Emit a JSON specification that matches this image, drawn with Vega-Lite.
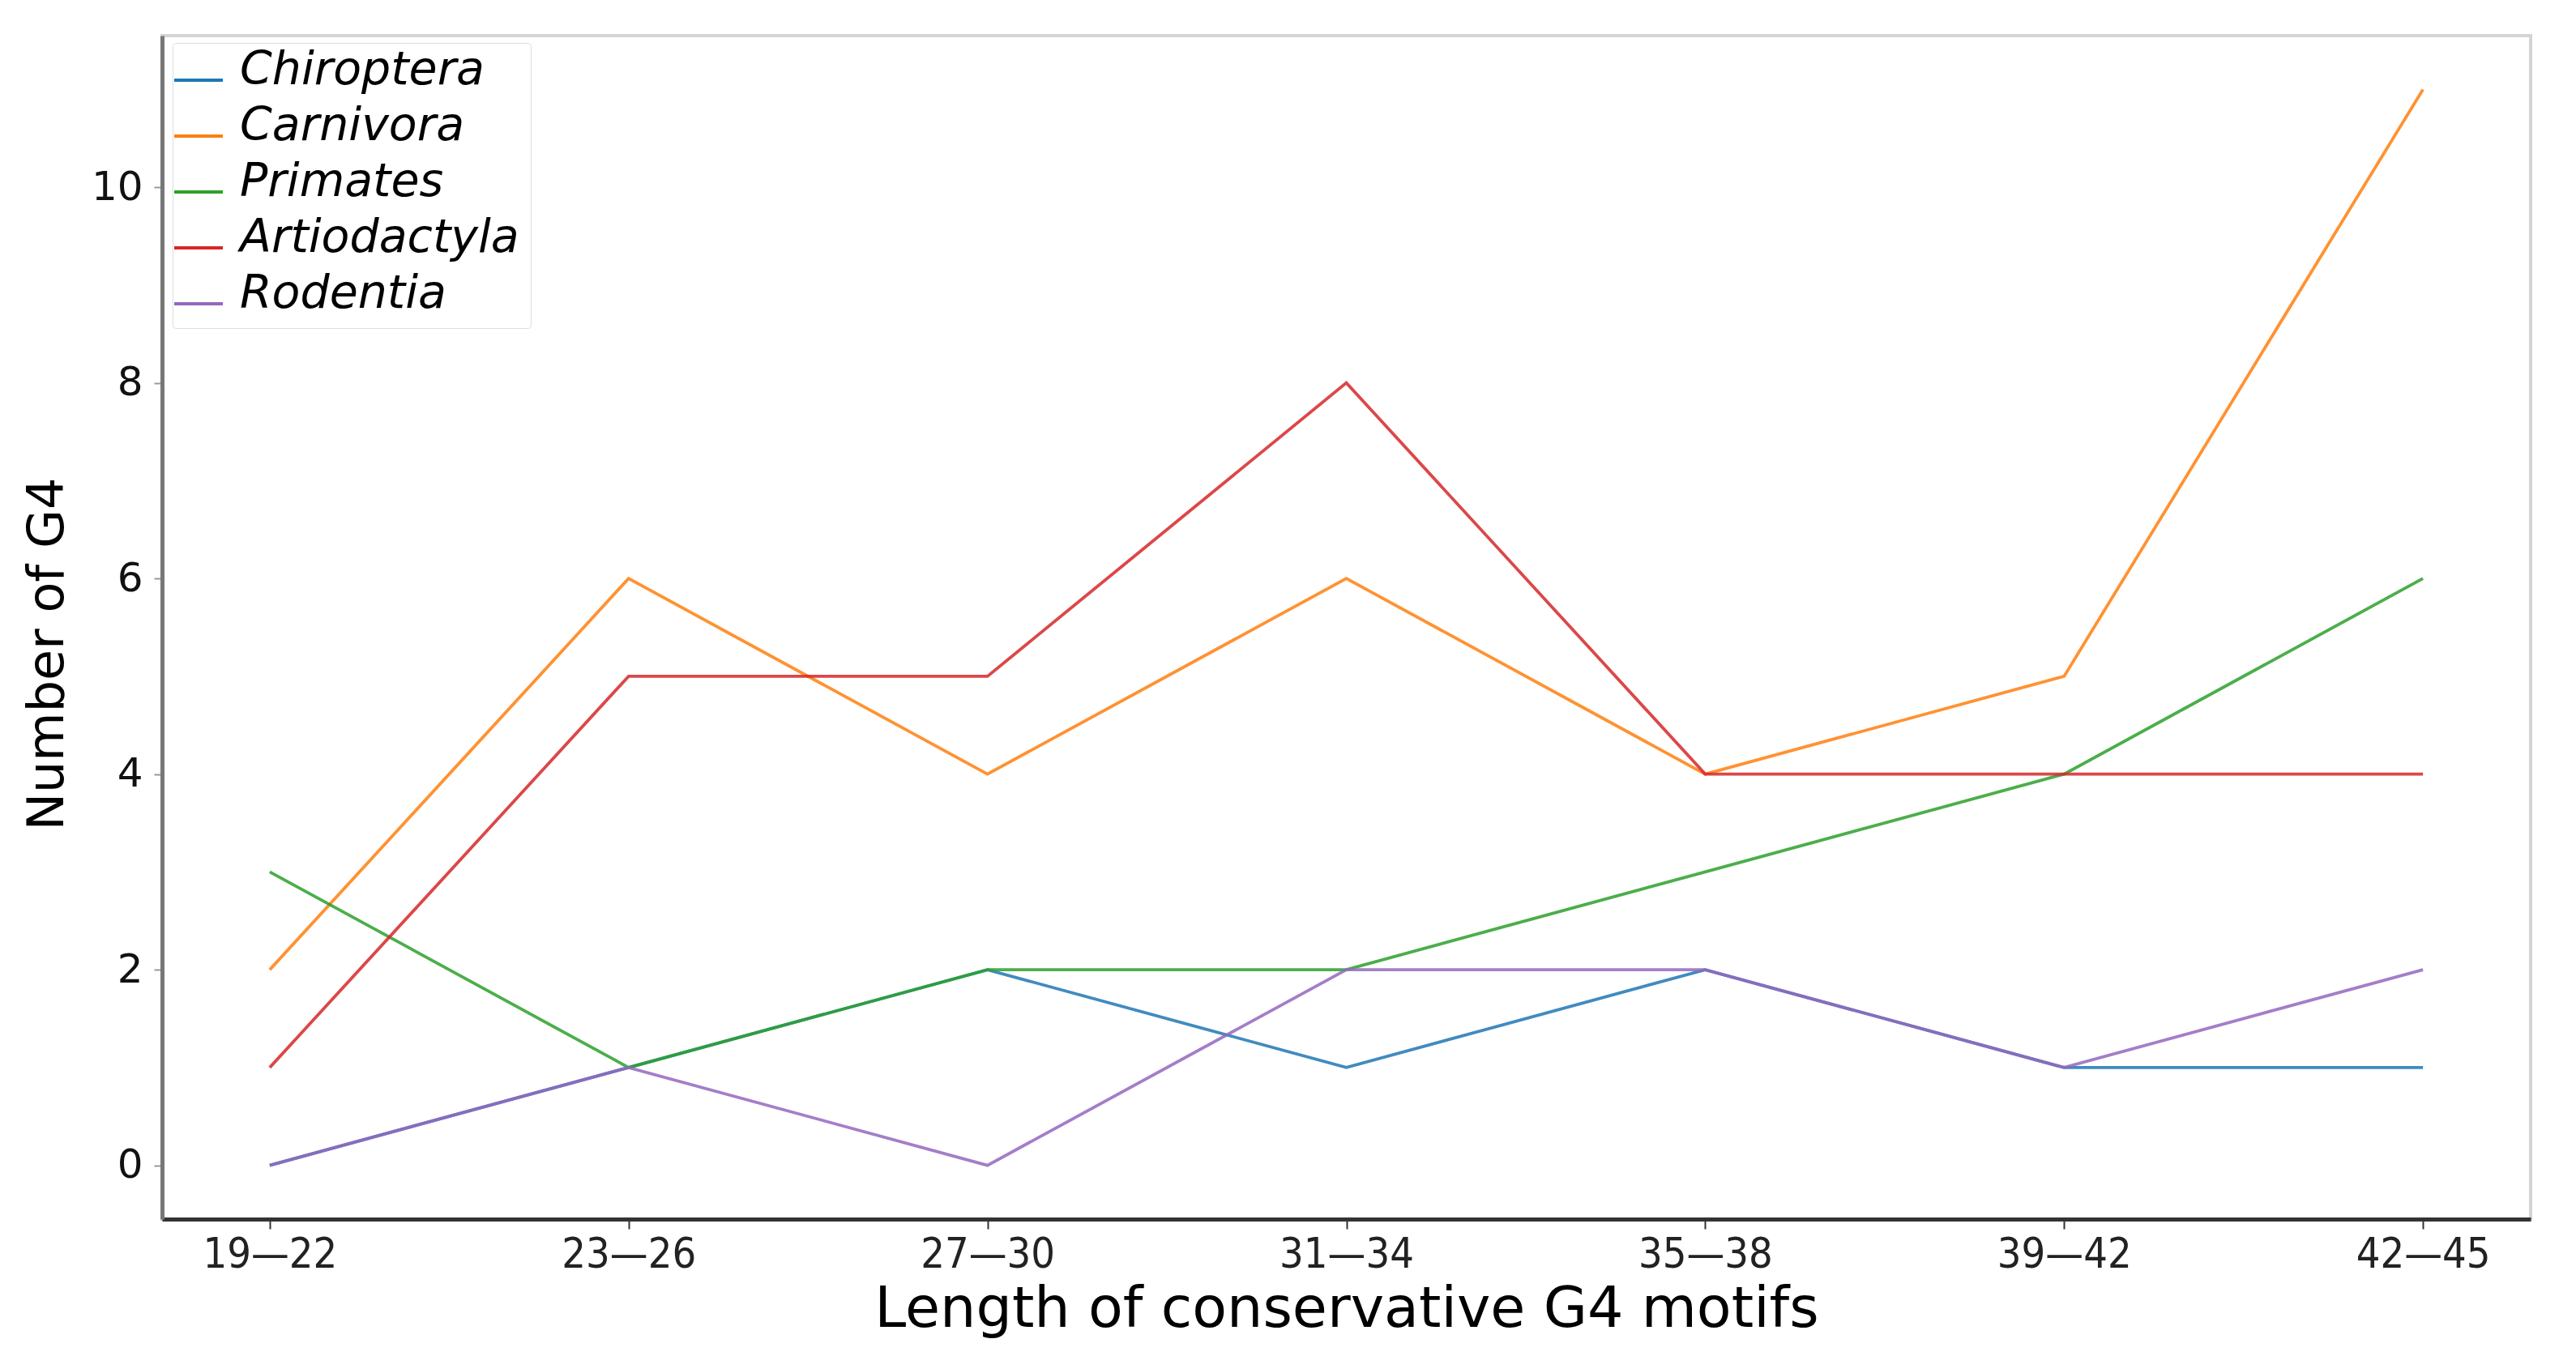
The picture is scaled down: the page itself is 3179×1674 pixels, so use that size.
{
  "$schema": "https://vega.github.io/schema/vega-lite/v6.json",
  "width": 2923,
  "height": 1461,
  "autosize": {"type": "none"},
  "padding": {"left": 200, "top": 44, "right": 56, "bottom": 169},
  "background": "white",
  "config": {
    "view": {"stroke": "#d4d4d4", "strokeWidth": 4},
    "font": "DejaVu Sans"
  },
  "data": {
    "values": [
      {"len": "19—22", "species": "Chiroptera", "n": 0},
      {"len": "23—26", "species": "Chiroptera", "n": 1},
      {"len": "27—30", "species": "Chiroptera", "n": 2},
      {"len": "31—34", "species": "Chiroptera", "n": 1},
      {"len": "35—38", "species": "Chiroptera", "n": 2},
      {"len": "39—42", "species": "Chiroptera", "n": 1},
      {"len": "42—45", "species": "Chiroptera", "n": 1},
      {"len": "19—22", "species": "Carnivora", "n": 2},
      {"len": "23—26", "species": "Carnivora", "n": 6},
      {"len": "27—30", "species": "Carnivora", "n": 4},
      {"len": "31—34", "species": "Carnivora", "n": 6},
      {"len": "35—38", "species": "Carnivora", "n": 4},
      {"len": "39—42", "species": "Carnivora", "n": 5},
      {"len": "42—45", "species": "Carnivora", "n": 11},
      {"len": "19—22", "species": "Primates", "n": 3},
      {"len": "23—26", "species": "Primates", "n": 1},
      {"len": "27—30", "species": "Primates", "n": 2},
      {"len": "31—34", "species": "Primates", "n": 2},
      {"len": "35—38", "species": "Primates", "n": 3},
      {"len": "39—42", "species": "Primates", "n": 4},
      {"len": "42—45", "species": "Primates", "n": 6},
      {"len": "19—22", "species": "Artiodactyla", "n": 1},
      {"len": "23—26", "species": "Artiodactyla", "n": 5},
      {"len": "27—30", "species": "Artiodactyla", "n": 5},
      {"len": "31—34", "species": "Artiodactyla", "n": 8},
      {"len": "35—38", "species": "Artiodactyla", "n": 4},
      {"len": "39—42", "species": "Artiodactyla", "n": 4},
      {"len": "42—45", "species": "Artiodactyla", "n": 4},
      {"len": "19—22", "species": "Rodentia", "n": 0},
      {"len": "23—26", "species": "Rodentia", "n": 1},
      {"len": "27—30", "species": "Rodentia", "n": 0},
      {"len": "31—34", "species": "Rodentia", "n": 2},
      {"len": "35—38", "species": "Rodentia", "n": 2},
      {"len": "39—42", "species": "Rodentia", "n": 1},
      {"len": "42—45", "species": "Rodentia", "n": 2}
    ]
  },
  "mark": {"type": "line", "strokeWidth": 3.8, "strokeOpacity": 0.85},
  "encoding": {
    "x": {
      "field": "len",
      "type": "ordinal",
      "sort": null,
      "scale": {"type": "point", "padding": 0.3},
      "axis": {
        "title": "Length of conservative G4 motifs",
        "titleFont": "DejaVu Sans",
        "titleFontSize": 70,
        "titleFontWeight": "normal",
        "titleColor": "#000000",
        "titlePadding": 8,
        "labelFont": "DejaVu Sans Condensed, DejaVu Sans",
        "labelFontSize": 52,
        "labelColor": "#222222",
        "labelAngle": 0,
        "labelPadding": 6,
        "tickSize": 12,
        "tickWidth": 2,
        "tickColor": "#333333",
        "domainColor": "#333333",
        "domainWidth": 5,
        "grid": false
      }
    },
    "y": {
      "field": "n",
      "type": "quantitative",
      "scale": {"domain": [-0.55, 11.55], "nice": false, "zero": false},
      "axis": {
        "title": "Number of G4",
        "titleFont": "DejaVu Sans",
        "titleFontSize": 62,
        "titleFontWeight": "normal",
        "titleColor": "#000000",
        "titlePadding": 22,
        "titleY": 763,
        "values": [0, 2, 4, 6, 8, 10],
        "labelFont": "DejaVu Sans",
        "labelFontSize": 50,
        "labelColor": "#111111",
        "labelPadding": 14,
        "tickSize": 10,
        "tickWidth": 2,
        "tickColor": "#999999",
        "domainColor": "#777777",
        "domainWidth": 5,
        "grid": false
      }
    },
    "color": {
      "field": "species",
      "type": "nominal",
      "sort": ["Chiroptera", "Carnivora", "Primates", "Artiodactyla", "Rodentia"],
      "scale": {
        "domain": ["Chiroptera", "Carnivora", "Primates", "Artiodactyla", "Rodentia"],
        "range": ["#1f77b4", "#ff7f0e", "#2ca02c", "#d62728", "#9467bd"]
      },
      "legend": {
        "title": null,
        "orient": "none",
        "legendX": 13,
        "legendY": 9,
        "symbolType": "stroke",
        "symbolSize": 3600,
        "symbolStrokeWidth": 4,
        "symbolOffset": -14,
        "labelFont": "DejaVu Sans",
        "labelFontStyle": "italic",
        "labelFontSize": 57,
        "labelColor": "#000000",
        "labelLimit": 0,
        "labelOffset": 19,
        "rowPadding": 12,
        "padding": 14,
        "strokeColor": "#dddddd",
        "fillColor": "#ffffff",
        "cornerRadius": 4,
        "encode": {"labels": {"update": {"dy": {"value": -12}}}}
      }
    }
  }
}
